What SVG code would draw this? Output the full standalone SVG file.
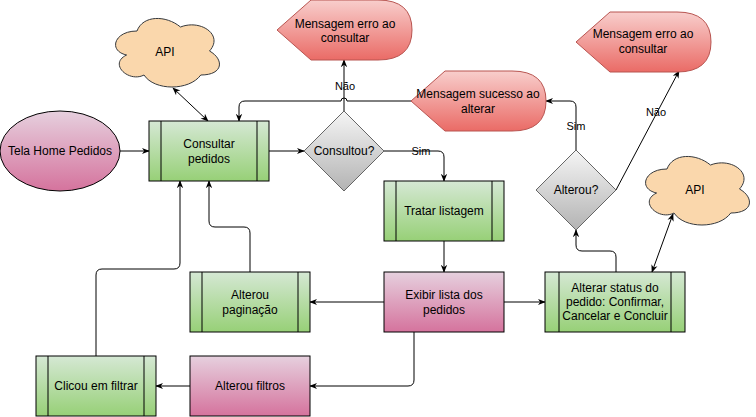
<svg xmlns="http://www.w3.org/2000/svg" width="756" height="417" viewBox="0 0 756 417">
<defs>
<linearGradient id="gGreen" x1="0" y1="0" x2="0" y2="1"><stop offset="0" stop-color="#d5e8d4"/><stop offset="1" stop-color="#97d077"/></linearGradient>
<linearGradient id="gPink" x1="0" y1="0" x2="0" y2="1"><stop offset="0" stop-color="#e6d0de"/><stop offset="1" stop-color="#d5739d"/></linearGradient>
<linearGradient id="gRed" x1="0" y1="0" x2="0" y2="1"><stop offset="0" stop-color="#f8cecc"/><stop offset="1" stop-color="#ea6b66"/></linearGradient>
<linearGradient id="gGray" x1="0" y1="0" x2="0" y2="1"><stop offset="0" stop-color="#f5f5f5"/><stop offset="1" stop-color="#b3b3b3"/></linearGradient>
<marker id="arr" viewBox="0 0 10 10" refX="9" refY="5" markerWidth="8" markerHeight="8" markerUnits="userSpaceOnUse" orient="auto-start-reverse"><path d="M0,1 L10,5 L0,9 L3,5 Z" fill="#000"/></marker>
<path id="cloud" d="M137,31 C113.8,31 108,51 126.6,55 C108,63.8 128.9,83 144,75 C154.4,91 189.2,91 200.8,75 C224,75 224,59 209.5,51 C224,35 200.8,19 180.5,27 C166,15 142.8,15 137,31 Z"/>
</defs>
<style>
text{font-family:"Liberation Sans",Arial,Helvetica,sans-serif;font-size:12px;fill:#000;text-anchor:middle;dominant-baseline:central}
.lbl{font-size:11px}
.green{fill:url(#gGreen);stroke:#000;stroke-width:1}
.pink{fill:url(#gPink);stroke:#000;stroke-width:1}
.red{fill:url(#gRed);stroke:#b85450;stroke-width:1}
.gray{fill:url(#gGray);stroke:#666;stroke-width:1}
.cloud{fill:#fad7ac;stroke:#36393d;stroke-width:1}
.in{stroke:#000;stroke-width:1;fill:none}
.edge{fill:none;stroke:#000;stroke-width:1}
.arrow{marker-end:url(#arr)}
.both{marker-start:url(#arr);marker-end:url(#arr)}
</style>
<g id="connectors">
<path class="edge arrow" d="M120,151 L149,151"/>
<path class="edge both" d="M173,88 L208,121"/>
<path class="edge arrow" d="M269,151 L304,151"/>
<path class="edge arrow" d="M344,111 L344,60"/>
<path class="edge arrow" d="M384,151 L438,151 Q444,151 444,157 L444,181"/>
<path class="edge arrow" d="M444,241 L444,272"/>
<path class="edge arrow" d="M384,302 L310,302"/>
<path class="edge arrow" d="M414,332 L414,380 Q414,386 408,386 L310,386"/>
<path class="edge arrow" d="M504,302 L545,302"/>
<path class="edge arrow" d="M190,386 L156,386"/>
<path class="edge arrow" d="M96,356 L96,275 Q96,269 102,269 L174,269 Q180,269 180,263 L180,181"/>
<path class="edge arrow" d="M250,272 L250,233 Q250,227 244,227 L215,227 Q209,227 209,221 L209,181"/>
<path class="edge arrow" d="M616,272 L616,257 Q616,251 610,251 L582,251 Q576,251 576,245 L576,230"/>
<path class="edge both" d="M652,272 L673,214"/>
<path class="edge arrow" d="M576,150 L576,107 Q576,101 570,101 L546,101"/>
<path class="edge arrow" d="M616,190 L679,71"/>
<path class="edge arrow" d="M411,101 L347,101 A3,3 0 0 0 341,101 L245,101 Q239,101 239,107 L239,121"/>
<text class="lbl" x="345" y="86">Não</text>
<text class="lbl" x="421" y="151">Sim</text>
<text class="lbl" x="576" y="126">Sim</text>
<text class="lbl" x="656" y="112">Não</text>
</g>
<g id="tela-home">
<ellipse cx="60" cy="151" rx="60" ry="40" class="pink"/>
<text x="60" y="151">Tela Home Pedidos</text>
</g>
<g id="api-1">
<use href="#cloud" class="cloud"/>
<text x="165" y="52">API</text>
</g>
<g id="consultar-pedidos">
<rect x="149" y="121" width="120" height="60" class="green"/>
<path class="in" d="M161,121 V181 M257,121 V181"/>
<text x="209" y="144">Consultar</text>
<text x="209" y="159">pedidos</text>
</g>
<g id="consultou">
<path d="M344,111 L384,151 L344,191 L304,151 Z" class="gray"/>
<text x="344" y="151">Consultou?</text>
</g>
<g id="erro-consultar-1">
<path d="M277,30 L311,0 L378,0 Q412,0 412,30 Q412,60 378,60 L311,60 Z" class="red"/>
<text x="345" y="24">Mensagem erro ao</text>
<text x="345" y="38">consultar</text>
</g>
<g id="sucesso-alterar">
<path d="M411,101 L445,71 L512,71 Q546,71 546,101 Q546,131 512,131 L445,131 Z" class="red"/>
<text x="478" y="94">Mensagem sucesso ao</text>
<text x="478" y="109">alterar</text>
</g>
<g id="erro-consultar-2">
<path d="M576,42 L610,12 L677,12 Q711,12 711,42 Q711,72 677,72 L610,72 Z" class="red"/>
<text x="643" y="34">Mensagem erro ao</text>
<text x="643" y="49">consultar</text>
</g>
<g id="tratar-listagem">
<rect x="384" y="181" width="120" height="60" class="green"/>
<path class="in" d="M396,181 V241 M492,181 V241"/>
<text x="444" y="211">Tratar listagem</text>
</g>
<g id="exibir-lista">
<rect x="384" y="272" width="120" height="60" class="pink"/>
<text x="444" y="295">Exibir lista dos</text>
<text x="444" y="310">pedidos</text>
</g>
<g id="alterou-paginacao">
<rect x="190" y="272" width="120" height="60" class="green"/>
<path class="in" d="M202,272 V332 M298,272 V332"/>
<text x="250" y="295">Alterou</text>
<text x="250" y="310">paginação</text>
</g>
<g id="alterou-filtros">
<rect x="190" y="356" width="120" height="60" class="pink"/>
<text x="250" y="386">Alterou filtros</text>
</g>
<g id="clicou-filtrar">
<rect x="36" y="356" width="120" height="60" class="green"/>
<path class="in" d="M48,356 V416 M144,356 V416"/>
<text x="96" y="386">Clicou em filtrar</text>
</g>
<g id="alterar-status">
<rect x="545" y="272" width="140" height="60" class="green"/>
<path class="in" d="M559,272 V332 M671,272 V332"/>
<text x="615" y="288">Alterar status do</text>
<text x="615" y="302">pedido: Confirmar,</text>
<text x="615" y="316">Cancelar e Concluir</text>
</g>
<g id="alterou">
<path d="M576,150 L616,190 L576,230 L536,190 Z" class="gray"/>
<text x="576" y="190">Alterou?</text>
</g>
<g id="api-2">
<use href="#cloud" class="cloud" transform="translate(530,138)"/>
<text x="695" y="190">API</text>
</g>
</svg>
